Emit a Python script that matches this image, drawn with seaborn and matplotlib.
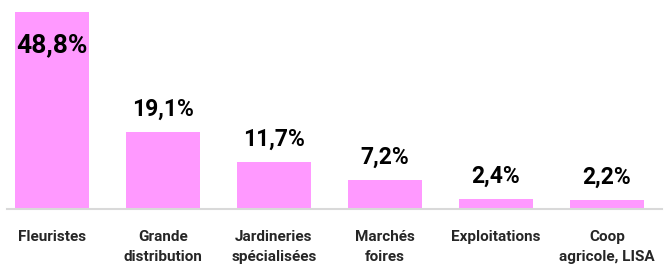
import matplotlib
matplotlib.use("Agg")
import matplotlib.pyplot as plt
import seaborn as sns
import pandas as pd

categories = ["Fleuristes", "Grande\ndistribution", "Jardineries\nspécialisées",
              "Marchés\nfoires", "Exploitations", "Coop\nagricole, LISA"]
values = [48.8, 19.1, 11.7, 7.2, 2.4, 2.2]
labels = ["48,8%", "19,1%", "11,7%", "7,2%", "2,4%", "2,2%"]

sns.set_theme(style="white")
plt.rcParams['font.family'] = ['Roboto', 'DejaVu Sans']

df = pd.DataFrame({"cat": categories, "val": values})

fig = plt.figure(figsize=(6.71, 2.67), dpi=100)
W, H = 671, 267
ax = fig.add_axes([7 / W, 1 - 209 / H, (662 - 7) / W, (209 - 12) / H])
sns.barplot(data=df, x="cat", y="val", color="#FF99FF", saturation=1,
            width=0.667, ax=ax, edgecolor="none")
ax.set_xlim(-0.405, 5.495)
ax.set_ylim(0, 48.8)
for p in ax.patches:
    p.set_clip_on(False)

for i, (v, lab) in enumerate(zip(values, labels)):
    if i == 0:
        ax.text(i, v - 8.3, lab, ha="center", va="center", fontsize=19,
                fontweight="bold", color="black")
    else:
        ax.annotate(lab, (i, v), xytext=(0, 8), textcoords="offset points",
                    ha="center", va="bottom", fontsize=16.5, fontweight="bold",
                    color="black")

ax.set_xlabel("")
ax.set_ylabel("")
ax.set_yticks([])
ax.tick_params(axis="x", length=0, pad=15, labelsize=11)
for t in ax.get_xticklabels():
    t.set_fontweight("bold")
    t.set_linespacing(1.6)
for s in ["top", "right", "left"]:
    ax.spines[s].set_visible(False)
ax.spines["bottom"].set_color("#D9D9D9")
ax.spines["bottom"].set_linewidth(1.5)

fig.savefig("out.png", dpi=100)
